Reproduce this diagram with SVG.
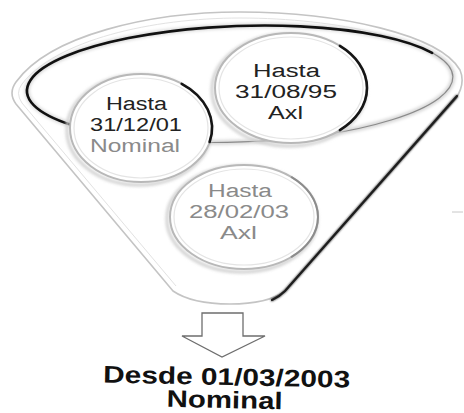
<svg xmlns="http://www.w3.org/2000/svg" width="464" height="413" viewBox="0 0 464 413">
  <defs>
    <filter id="soft" x="-10%" y="-10%" width="120%" height="120%">
      <feGaussianBlur stdDeviation="0.8"/>
    </filter>
    <filter id="halo" x="-10%" y="-10%" width="120%" height="120%">
      <feGaussianBlur stdDeviation="1.6"/>
    </filter>
  </defs>
  <style>
    .rim { fill: none; stroke: #c4c4c4; stroke-width: 1.6; }
    .rim2 { fill: none; stroke: #e2e2e2; stroke-width: 1; }
    .dark { fill: none; stroke: #1e1e1e; stroke-width: 2.2; stroke-linecap: round; }
    .bubble { fill: #ffffff; stroke: #b8b8b8; stroke-width: 2; }
    .bubble-in { fill: none; stroke: #e4e4e4; stroke-width: 1.2; }
    .halo { fill: none; stroke: #cfcfcf; stroke-width: 3; }
    .t { font-family: "Liberation Sans", Arial, sans-serif; font-size: 18px; }
    .blk { fill: #222222; }
    .gry { fill: #8a8a8a; }
    .res { font-family: "Liberation Sans", Arial, sans-serif; font-size: 24px; font-weight: bold; fill: #111111; }
    .arrow { fill: #ffffff; stroke: #6e6e6e; stroke-width: 1.3; stroke-linejoin: miter; }
  </style>

  <g id="funnel">
    <path class="rim" d="M 173,291 L 16,104 Q 8,93 16,82 C 50,35 150,12 240,12 C 340,12 440,35 460,70 Q 466,84 455,100 L 285,291 Q 268,304 230,304 Q 192,304 173,291 Z"/>
    <path class="rim2" d="M 176,286 L 22,103 Q 15,93 22,84 C 56,40 152,18 240,18 C 338,18 434,40 454,72"/>
    <path class="dark" d="M 457,96 L 285,291 Q 279,297 272,300" filter="url(#soft)"/>
    <path class="dark" d="M 457,96 L 285,291 Q 279,297 272,300" stroke-width="1.6"/>
    <!-- inner rim ellipse -->
    <ellipse cx="240" cy="84" rx="213" ry="58" transform="rotate(-2 240 84)" fill="none" stroke="#d8d8d8" stroke-width="5" filter="url(#halo)"/>
    <ellipse cx="240" cy="84" rx="213" ry="58" transform="rotate(-2 240 84)" fill="none" stroke="#8a8a8a" stroke-width="1.2"/>
    <path d="M71.2,124.8 A213,58 -2 1 1 432.1,52.8" fill="none" stroke="#111111" stroke-width="2.6" stroke-linecap="round"/>
    <line x1="452" y1="212" x2="463" y2="212" stroke="#c8c8c8" stroke-width="1"/>
  </g>

  <g id="node-2">
    <ellipse class="halo" cx="289" cy="90" rx="77" ry="56" filter="url(#halo)"/>
    <ellipse class="bubble" cx="291" cy="88" rx="76" ry="55"/>
    <ellipse class="bubble-in" cx="291" cy="88" rx="72" ry="51"/>
    <path d="M339.9,45.9 A76,55 0 0 1 339.9,130.1" fill="none" stroke="#151515" stroke-width="2.6" stroke-linecap="round"/>
    <text class="t blk" x="253" y="77" textLength="67" lengthAdjust="spacingAndGlyphs" font-size="19">Hasta</text>
    <text class="t blk" x="235" y="98" textLength="102" lengthAdjust="spacingAndGlyphs" font-size="19">31/08/95</text>
    <text class="t blk" x="268" y="119" textLength="35" lengthAdjust="spacingAndGlyphs" font-size="19">Axl</text>
  </g>

  <g id="node-3">
    <ellipse class="halo" cx="242" cy="219" rx="75" ry="53" filter="url(#halo)"/>
    <ellipse class="bubble" cx="244" cy="217" rx="74" ry="52"/>
    <ellipse class="bubble-in" cx="244" cy="217" rx="70" ry="48"/>
    <path d="M291.6,177.2 A74,52 0 0 1 291.6,256.8" fill="none" stroke="#8c8c8c" stroke-width="2" stroke-linecap="round"/>
    <text class="t gry" x="208" y="197" textLength="64" lengthAdjust="spacingAndGlyphs" font-size="19">Hasta</text>
    <text class="t gry" x="189" y="218" textLength="100" lengthAdjust="spacingAndGlyphs" font-size="19">28/02/03</text>
    <text class="t gry" x="220" y="239" textLength="37" lengthAdjust="spacingAndGlyphs" font-size="19">Axl</text>
  </g>

  <g id="node-1">
    <ellipse class="halo" cx="139" cy="130" rx="72" ry="55" filter="url(#halo)"/>
    <ellipse class="bubble" cx="141" cy="128" rx="71" ry="54"/>
    <ellipse class="bubble-in" cx="141" cy="128" rx="67" ry="50"/>
    <path d="M181.7,83.8 A71,54 0 0 1 209.6,142" fill="none" stroke="#151515" stroke-width="2.6" stroke-linecap="round"/>
    <text class="t blk" x="106" y="110" textLength="61" lengthAdjust="spacingAndGlyphs">Hasta</text>
    <text class="t blk" x="90" y="131" textLength="92" lengthAdjust="spacingAndGlyphs">31/12/01</text>
    <text class="t gry" x="90" y="152" textLength="90" lengthAdjust="spacingAndGlyphs">Nominal</text>
  </g>

  <g id="connectors">
    <polygon class="arrow" points="202,313 243,313 243,336 265,336 222,357 182,336 202,336"/>
  </g>

  <g id="result" transform="rotate(1.2 226 385)">
    <text class="res" x="103" y="385" textLength="247" lengthAdjust="spacingAndGlyphs">Desde 01/03/2003</text>
    <text class="res" x="167" y="408" textLength="116" lengthAdjust="spacingAndGlyphs">Nominal</text>
  </g>
</svg>
